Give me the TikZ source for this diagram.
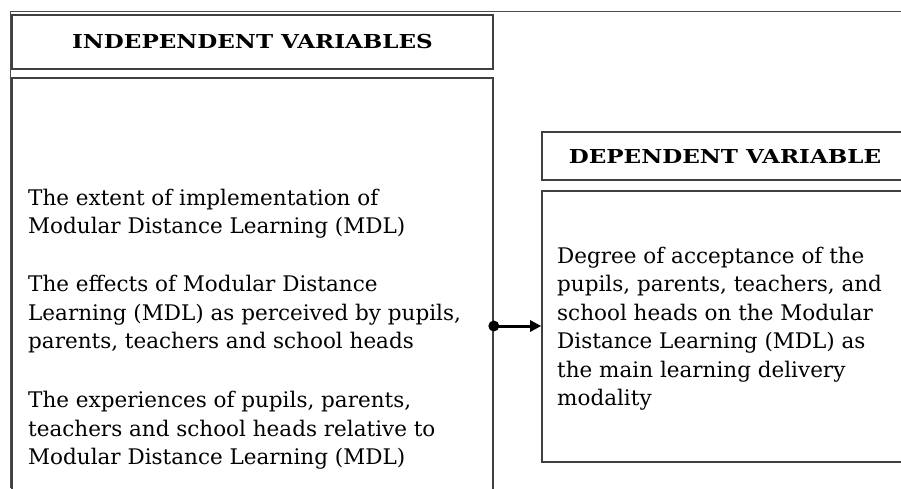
\documentclass[tikz,border=0pt]{standalone}
\usepackage{fontspec}
\setmainfont{DejaVu Serif}
\newfontfamily\headfont[FakeStretch=1.2]{DejaVu Serif}
\usetikzlibrary{arrows.meta}
\tikzset{
  frame/.style={draw=black!75, line width=1.6pt},
  outer/.style={draw=black!70, line width=1pt},
  headtxt/.style={font=\headfont\bfseries\fontsize{19.2}{24}\selectfont},
  bodytxt/.style={font=\fontsize{21.5}{28.5}\selectfont, align=left, inner sep=0pt, anchor=north west},
  conn/.style={draw=black, line width=3pt, -{Triangle[length=11pt,width=11pt]}}
}
\begin{document}
\begin{tikzpicture}[x=1pt,y=-1pt]
\useasboundingbox (0,0) rectangle (901,488);
\clip (0,0) rectangle (901,488);
\fill[white] (0,0) rectangle (901,488);
% outer frame lines
\coordinate (otl) at (10,11);
\coordinate (otr) at (901,11);
\coordinate (obl) at (10,488);
\draw[outer] (otr) -- (otl) -- (obl);
% independent header
\node[frame, minimum width=481pt, minimum height=54pt, inner sep=0pt, headtxt] (ih) at (252.5,42) {INDEPENDENT VARIABLES};
% independent body
\node[frame, minimum width=481pt, minimum height=420pt, inner sep=0pt] (ib) at (252.5,288) {};
% dependent header
\node[frame, minimum width=363pt, minimum height=48pt, inner sep=0pt] (dh) at (723.5,156) {};
\node[headtxt] (dht) at (725,156) {DEPENDENT VARIABLE};
% dependent body
\node[frame, minimum width=363pt, minimum height=271pt, inner sep=0pt] (db) at (723.5,326.5) {};
% texts
\node[bodytxt] (t1) at (28,188.5) {The extent of implementation of\\Modular Distance Learning (MDL)};
\node[bodytxt] (t2) at (28,275) {The effects of Modular Distance\\Learning (MDL) as perceived by pupils,\\parents, teachers and school heads};
\node[bodytxt] (t3) at (28,391) {The experiences of pupils, parents,\\teachers and school heads relative to\\Modular Distance Learning (MDL)};
\node[bodytxt] (t4) at (557,246.5) {Degree of acceptance of the\\pupils, parents, teachers, and\\school heads on the Modular\\Distance Learning (MDL) as\\the main learning delivery\\modality};
% connector
\coordinate (dot) at (ib.east |- 0,326);
\fill (dot) circle (5.5pt);
\draw[conn] (dot) -- (db.west |- dot);
\end{tikzpicture}
\end{document}
